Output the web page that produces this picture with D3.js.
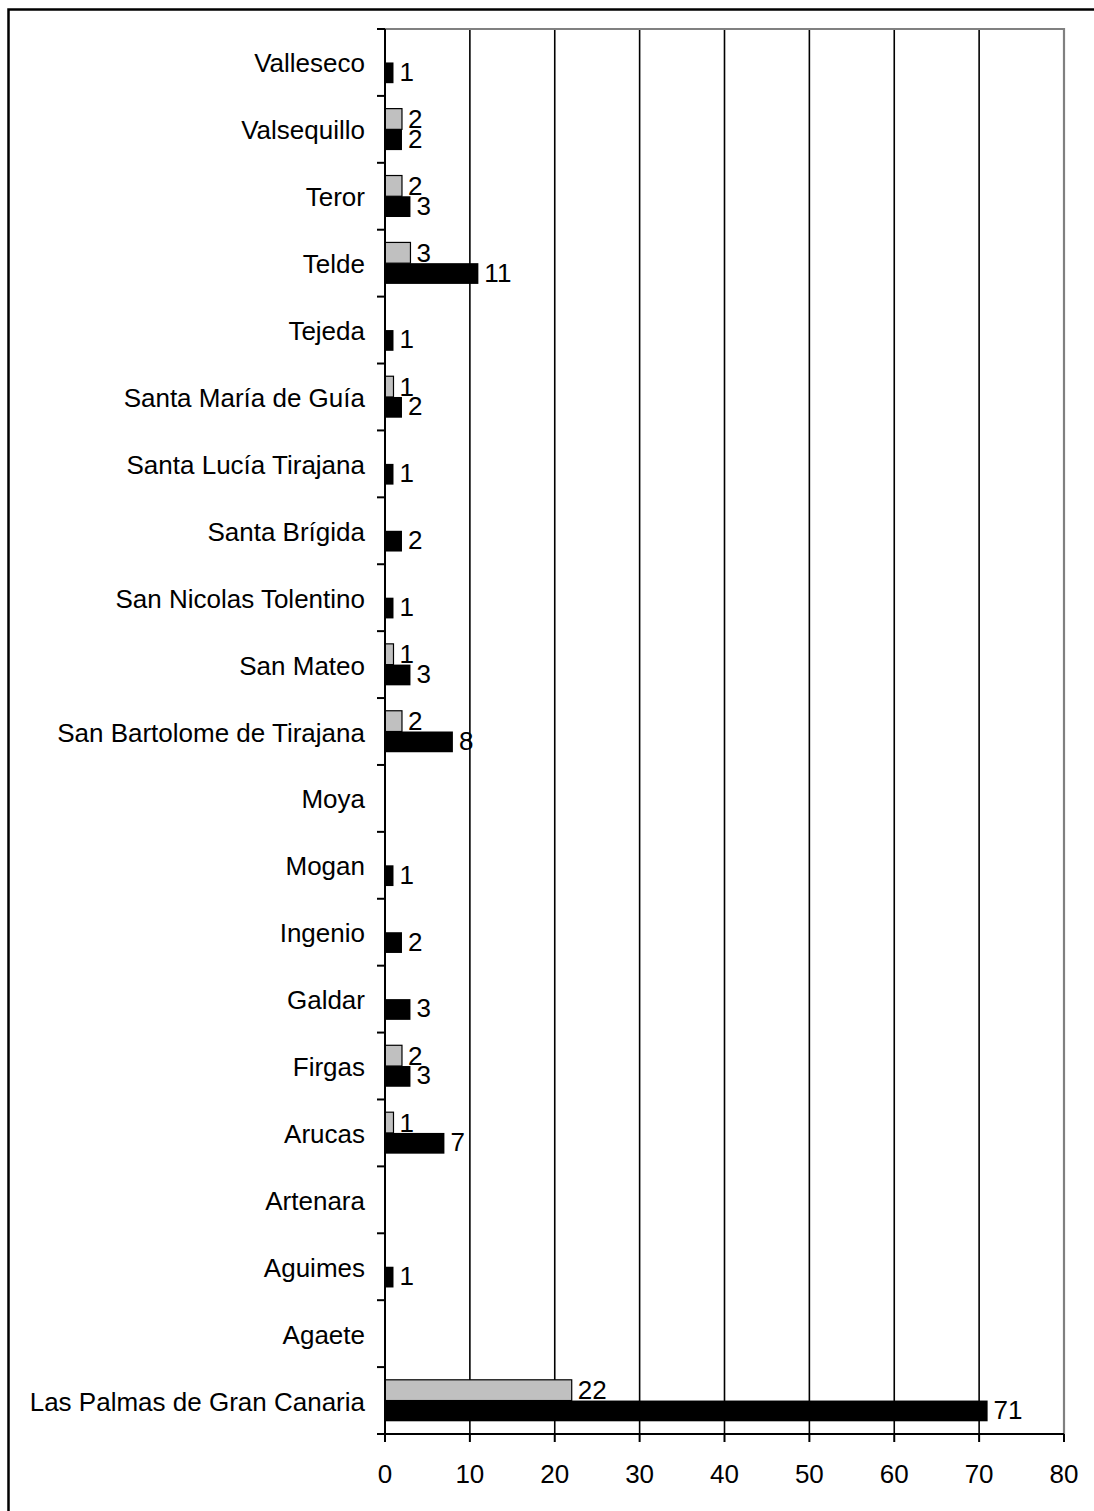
<!DOCTYPE html>
<html>
<head>
<meta charset="utf-8">
<script src="https://cdn.jsdelivr.net/npm/d3@7"></script>
<style>
  html, body { margin: 0; padding: 0; background: #fff; }
  svg { display: block; }
  text { font-family: "Liberation Sans", Arial, sans-serif; fill: #000; }
</style>
</head>
<body>
<svg id="chart" width="1094" height="1511"></svg>
<script>
const categories = [
  "Valleseco", "Valsequillo", "Teror", "Telde", "Tejeda",
  "Santa María de Guía", "Santa Lucía Tirajana", "Santa Brígida",
  "San Nicolas Tolentino", "San Mateo", "San Bartolome de Tirajana",
  "Moya", "Mogan", "Ingenio", "Galdar", "Firgas", "Arucas",
  "Artenara", "Aguimes", "Agaete", "Las Palmas de Gran Canaria"
];
const seriesGray = [null, 2, 2, 3, null, 1, null, null, null, 1, 2, null, null, null, null, 2, 1, null, null, null, 22];
const seriesBlack = [1, 2, 3, 11, 1, 2, 1, 2, 1, 3, 8, null, 1, 2, 3, 3, 7, null, 1, null, 71];
const xTicks = [0, 10, 20, 30, 40, 50, 60, 70, 80];

(function () {
const svg = d3.select("#chart");
const pLeft = 385, pRight = 1064, pTop = 29, pBottom = 1434;
const fs = 26;

// Outer border
svg.append("path")
  .attr("d", `M8.5,1520 L8.5,9.5 L1100,9.5`)
  .attr("fill", "none").attr("stroke", "#000").attr("stroke-width", 2.5);

const x = d3.scaleLinear().domain([0, 80]).range([pLeft, pRight]);
const y = d3.scaleBand().domain(categories).range([pTop, pBottom]).padding(0);
const bw = y.bandwidth();
const barH = bw * 0.31;
const off = bw * 0.19;

// Gridlines
svg.append("g").selectAll("line")
  .data(xTicks.filter(t => t > 0 && t < 80))
  .join("line")
  .attr("x1", d => x(d)).attr("x2", d => x(d))
  .attr("y1", pTop).attr("y2", pBottom)
  .attr("stroke", "#000").attr("stroke-width", 1.6);

// Plot area border (top, right) gray
svg.append("path")
  .attr("d", `M${pLeft},${pTop} L${pRight},${pTop} L${pRight},${pBottom}`)
  .attr("fill", "none").attr("stroke", "#808080").attr("stroke-width", 2.2);

const rows = categories.map((c, i) => ({c, g: seriesGray[i], b: seriesBlack[i]}));

// Gray bars
svg.append("g").selectAll("rect")
  .data(rows.filter(d => d.g))
  .join("rect")
  .attr("x", x(0))
  .attr("y", d => y(d.c) + off)
  .attr("width", d => x(d.g) - x(0))
  .attr("height", barH)
  .attr("fill", "#C0C0C0").attr("stroke", "#000").attr("stroke-width", 1.2);

// Gray labels
svg.append("g").selectAll("text")
  .data(rows.filter(d => d.g))
  .join("text")
  .attr("x", d => x(d.g) + 6)
  .attr("y", d => y(d.c) + off + barH / 2 + 9)
  .attr("font-size", fs)
  .text(d => d.g);

// Black bars
svg.append("g").selectAll("rect")
  .data(rows.filter(d => d.b))
  .join("rect")
  .attr("x", x(0))
  .attr("y", d => y(d.c) + off + barH)
  .attr("width", d => x(d.b) - x(0))
  .attr("height", barH)
  .attr("fill", "#000");

// Black labels
svg.append("g").selectAll("text")
  .data(rows.filter(d => d.b))
  .join("text")
  .attr("x", d => x(d.b) + 6)
  .attr("y", d => y(d.c) + off + barH * 1.5 + 8)
  .attr("font-size", fs)
  .text(d => d.b);

// Y axis
const yAxis = svg.append("g");
yAxis.append("line")
  .attr("x1", pLeft).attr("x2", pLeft).attr("y1", pTop).attr("y2", pBottom + 8)
  .attr("stroke", "#000").attr("stroke-width", 2);
const yTickPos = categories.map(c => y(c)).concat([pBottom]);
yAxis.selectAll("line.tick")
  .data(yTickPos)
  .join("line").attr("class", "tick")
  .attr("x1", pLeft - 8).attr("x2", pLeft)
  .attr("y1", d => d).attr("y2", d => d)
  .attr("stroke", "#000").attr("stroke-width", 2);
yAxis.selectAll("text")
  .data(categories)
  .join("text")
  .attr("x", 365)
  .attr("y", d => y(d) + bw / 2 + 10)
  .attr("text-anchor", "end")
  .attr("font-size", fs)
  .text(d => d);

// X axis
const xAxis = svg.append("g");
xAxis.append("line")
  .attr("x1", pLeft - 8).attr("x2", pRight).attr("y1", pBottom).attr("y2", pBottom)
  .attr("stroke", "#000").attr("stroke-width", 2);
xAxis.selectAll("line.tick")
  .data(xTicks)
  .join("line").attr("class", "tick")
  .attr("x1", d => x(d)).attr("x2", d => x(d))
  .attr("y1", pBottom).attr("y2", pBottom + 8)
  .attr("stroke", "#000").attr("stroke-width", 2);
xAxis.selectAll("text")
  .data(xTicks)
  .join("text")
  .attr("x", d => x(d))
  .attr("y", 1483)
  .attr("text-anchor", "middle")
  .attr("font-size", fs)
  .text(d => d);
})();
</script>
</body>
</html>
